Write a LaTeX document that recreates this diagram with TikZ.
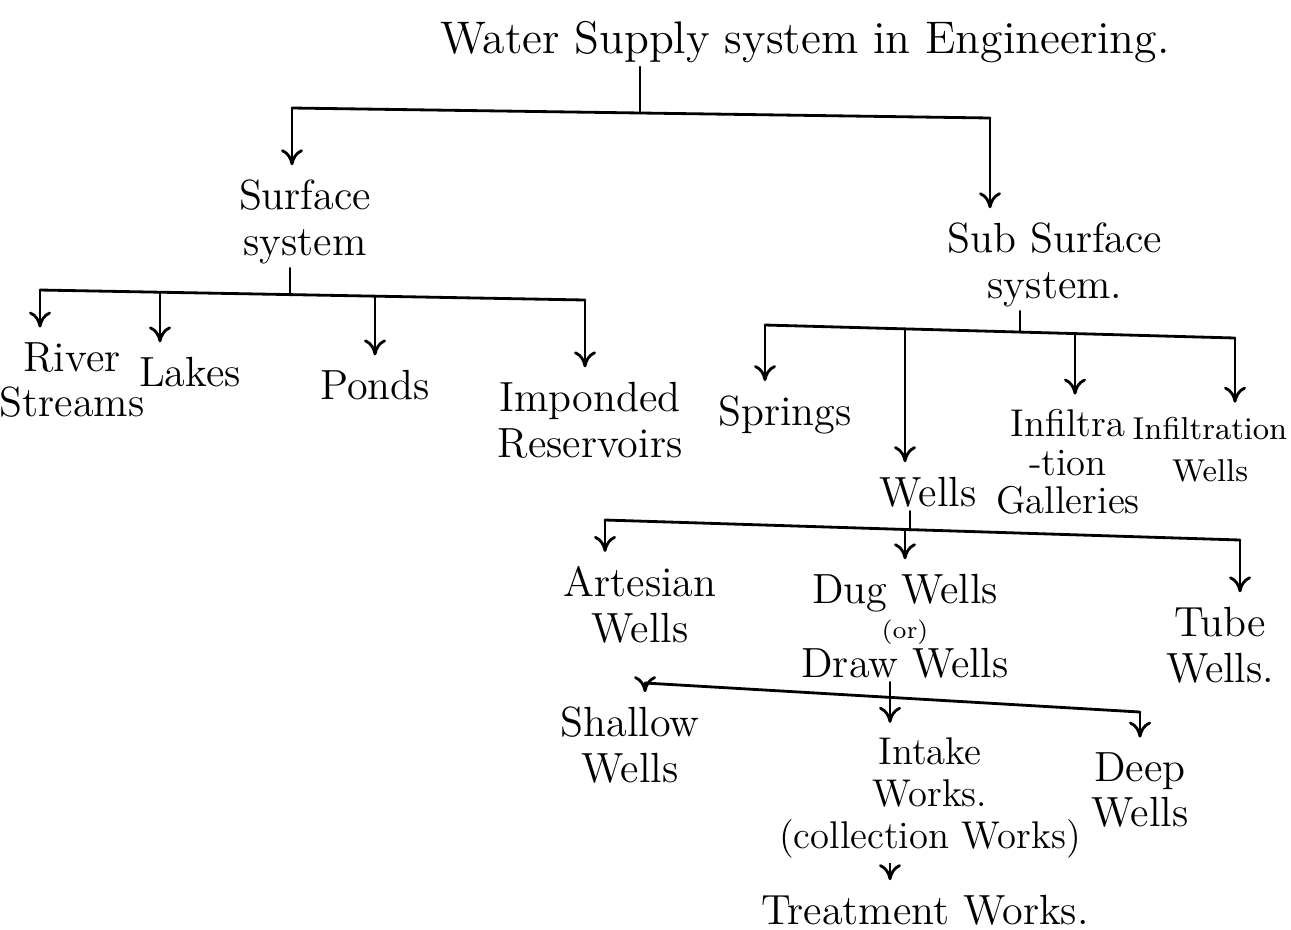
\documentclass[tikz,border=0pt]{standalone}
\usepackage{tikz}
\usetikzlibrary{arrows.meta}

\begin{document}
\begin{tikzpicture}[
  lbl/.style={align=center, font=\fontsize{12}{13}\selectfont, inner sep=1pt},
  ln/.style={thick, line cap=round},
  arr/.style={-{To[length=1.6mm,width=2.2mm]}, thick, shorten >=3pt}
]
\useasboundingbox (0,0) rectangle (12.91,-9.29);
% heading
\node[lbl, font=\fontsize{13}{15}\selectfont] (top) at (8.05,-0.42) {Water Supply system in Engineering.};
% first level
\node[lbl] (surf) at (3.05,-2.22) {Surface\\system};
\node[lbl] (sub) at (10.55,-2.65) {Sub Surface\\system.};
\coordinate (t1) at (6.4,-1.13);
\coordinate (l1) at (2.92,-1.08);
\coordinate (r1) at (9.9,-1.18);
\draw[ln] (top.south -| t1) -- (t1);
\draw[ln] (l1) -- (r1);
\draw[arr] (l1) -- (l1 |- surf.north);
\draw[arr] (r1) -- (r1 |- sub.north);
% surface sources
\node[lbl] (river) at (0.72,-3.8) {River\\Streams};
\node[lbl] (lakes) at (1.9,-3.72) {Lakes};
\node[lbl] (ponds) at (3.75,-3.85) {Ponds};
\node[lbl] (resv) at (5.9,-4.2) {Imponded\\Reservoirs};
\coordinate (t2) at (2.9,-2.95);
\foreach \c/\x/\y in {s1/0.4/-2.9,s2/1.6/-2.92,s3/3.75/-2.96,s4/5.85/-3.0} \coordinate (\c) at (\x,\y);
\draw[ln] (surf.south -| t2) -- (t2);
\draw[ln] (s1) -- (s4);
\foreach \c/\n in {s1/river,s2/lakes,s3/ponds,s4/resv} \draw[arr] (\c) -- (\c |- \n.north);
% sub surface sources
\node[lbl] (spr) at (7.85,-4.15) {Springs};
\node[lbl] (wells) at (9.28,-4.92) {Wells};
\node[lbl, font=\fontsize{11}{12}\selectfont] (gal) at (10.68,-4.62) {Infiltra\\[-1pt]-tion\\[-1pt]Galleries};
\node[lbl, font=\fontsize{9}{12}\selectfont] (infw) at (12.1,-4.5) {Infiltration\\Wells};
\coordinate (t3) at (10.2,-3.32);
\foreach \c/\x/\y in {u1/7.65/-3.25,u2/9.05/-3.29,u3/10.75/-3.34,u4/12.35/-3.38} \coordinate (\c) at (\x,\y);
\draw[ln] (sub.south -| t3) -- (t3);
\draw[ln] (u1) -- (u4);
\foreach \c/\n in {u1/spr,u2/wells,u3/gal,u4/infw} \draw[arr] (\c) -- (\c |- \n.north);
% kinds of wells
\node[lbl] (art) at (6.4,-6.05) {Artesian\\Wells};
\node[lbl] (dug) at (9.05,-6.26) {Dug Wells\\[-3pt]{\scriptsize (or)}\\[-2pt]Draw Wells};
\node[lbl] (tube) at (12.2,-6.45) {Tube\\Wells.};
\coordinate (t4) at (9.1,-5.3);
\foreach \c/\x/\y in {w1/6.05/-5.2,w2/9.05/-5.29,w3/12.4/-5.4} \coordinate (\c) at (\x,\y);
\draw[ln] (wells.south -| t4) -- (t4);
\draw[ln] (w1) -- (w3);
\foreach \c/\n in {w1/art,w2/dug,w3/tube} \draw[arr] (\c) -- (\c |- \n.north);
% dug / draw wells
\node[lbl] (shal) at (6.3,-7.45) {Shallow\\Wells};
\node[lbl, font=\fontsize{11}{12}\selectfont] (intk) at (9.3,-7.98) {Intake\\Works.\\(collection Works)};
\node[lbl] (deep) at (11.4,-7.9) {Deep\\Wells};
\coordinate (t5) at (8.9,-6.97);
\foreach \c/\x/\y in {d1/6.45/-6.83,d2/8.9/-6.97,d3/11.4/-7.12} \coordinate (\c) at (\x,\y);
\draw[ln] (dug.south -| t5) -- (t5);
\draw[ln] (d1) -- (d3);
\foreach \c/\n in {d1/shal,d2/intk,d3/deep} \draw[arr] (\c) -- (\c |- \n.north);
% last step
\node[lbl] (treat) at (9.25,-9.1) {Treatment Works.};
\draw[arr] (intk.south -| t5) -- (treat.north -| t5);
\end{tikzpicture}
\end{document}
